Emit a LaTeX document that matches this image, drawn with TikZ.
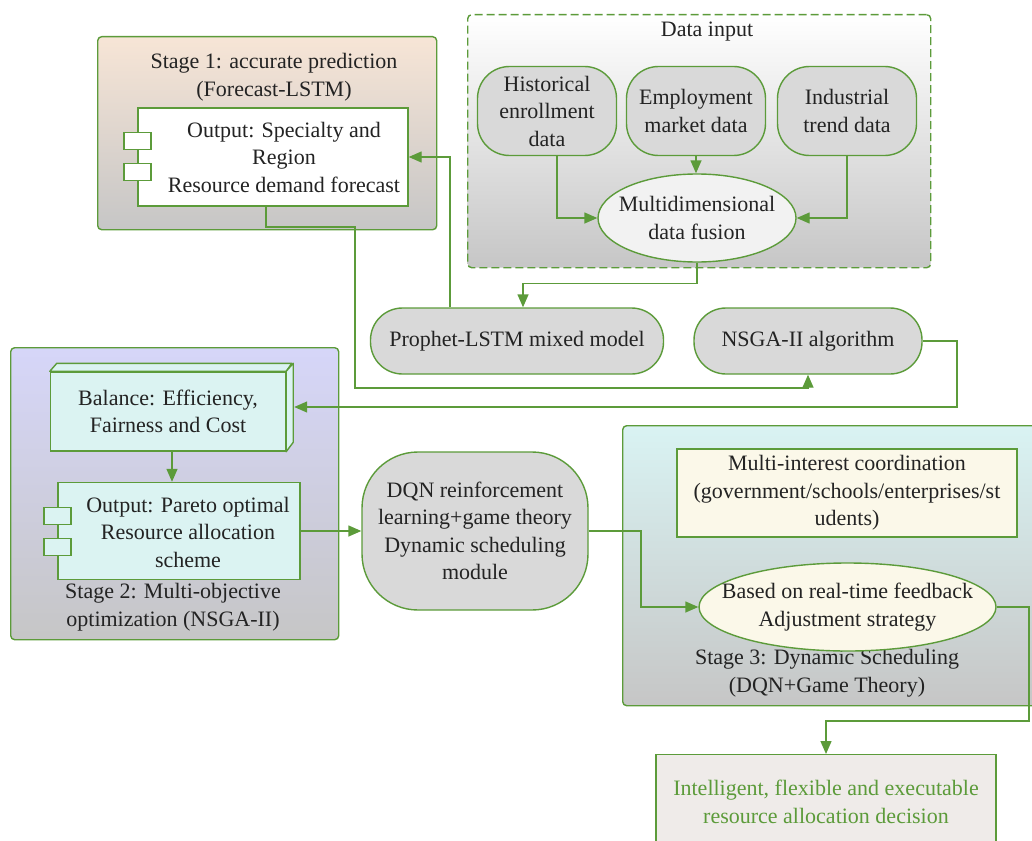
\documentclass[tikz,border=0pt]{standalone}
\usepackage{fontspec}
\setmainfont{Liberation Serif}
\usepackage{tikz}
\usetikzlibrary{shapes.geometric, arrows.meta}

\definecolor{lgreen}{RGB}{92,155,58}
\definecolor{txtgray}{RGB}{35,35,35}
\definecolor{peach}{RGB}{247,229,214}
\definecolor{lavender}{RGB}{214,214,249}
\definecolor{paleblue}{RGB}{217,243,243}
\definecolor{stagegray}{RGB}{198,198,198}
\definecolor{pillgray}{RGB}{217,217,217}
\definecolor{fusegray}{RGB}{242,242,242}
\definecolor{cyanfill}{RGB}{219,243,242}
\definecolor{cream}{RGB}{251,248,233}
\definecolor{decgray}{RGB}{239,235,233}

\begin{document}
\begin{tikzpicture}[x=1pt, y=-1pt,
                    font=\fontsize{22}{27.5}\selectfont, text=txtgray,
                    stage/.style={draw=lgreen, line width=1.4pt, rounded corners=4pt,
                                  inner sep=0pt, anchor=north west},
                    title/.style={align=center, inner sep=0pt},
                    pill/.style={draw=lgreen, line width=1.4pt, fill=pillgray,
                                 align=center, inner sep=0pt},
                    comp/.style={draw=lgreen, line width=1.4pt, align=center, inner sep=0pt},
                    tab/.style={draw=lgreen, line width=1.4pt, minimum width=27pt,
                                minimum height=17pt, inner sep=0pt},
                    blob/.style={ellipse, draw=lgreen, line width=1.4pt, inner sep=0pt},
                    link/.style={draw=lgreen, line width=1.4pt,
                                 -{Triangle[length=13pt, width=11pt]}}]
    \useasboundingbox (0,0) rectangle (1032,840);
    \clip (0,0) rectangle (1032,840);

    % stage 1
    \node[stage, minimum width=339pt, minimum height=193pt,
          top color=peach, bottom color=stagegray] (st1) at (97,36) {};
    \node[title] (st1T) at (274,77) {Stage 1: accurate prediction\\(Forecast-LSTM)};
    \node[comp, fill=white, minimum width=270pt, minimum height=98pt] (fc) at (273,157) {};
    \node[title] (fcT) at (284,157) {Output: Specialty and\\Region\\Resource demand forecast};
    \node[tab, fill=white] (fcA) at ([yshift=16pt]fc.west) {};
    \node[tab, fill=white] (fcB) at ([yshift=-15pt]fc.west) {};

    % data input
    \node[stage, dash pattern=on 8pt off 4pt, minimum width=463pt, minimum height=253pt,
          top color=white, bottom color=stagegray] (din) at (467,14) {};
    \node[title] (dinT) at (707,32) {Data input};
    \node[pill, rounded corners=32pt, minimum width=139pt, minimum height=89pt] (hist) at (547,111)
        {Historical\\enrollment\\data};
    \node[pill, rounded corners=32pt, minimum width=139pt, minimum height=89pt] (emp) at (696,111)
        {Employment\\market data};
    \node[pill, rounded corners=32pt, minimum width=139pt, minimum height=89pt] (ind) at (847,111)
        {Industrial\\trend data};
    \node[blob, fill=fusegray, minimum width=198pt, minimum height=88pt] (fuse) at (697,218) {};
    \node[title] (fuseT) at (697,218) {Multidimensional\\data fusion};

    % models
    \node[pill, rounded corners=32pt, minimum width=293pt, minimum height=66pt] (prophet) at (517,341)
        {Prophet-LSTM mixed model};
    \node[pill, rounded corners=32pt, minimum width=228pt, minimum height=66pt] (nsga) at (808,341)
        {NSGA-II algorithm};

    % stage 2
    \node[stage, minimum width=328pt, minimum height=292pt,
          top color=lavender, bottom color=stagegray] (st2) at (10,347) {};
    \node[title] (st2T) at (173,607) {Stage 2: Multi-objective\\optimization (NSGA-II)};
    \node[comp, fill=cyanfill, minimum width=235pt, minimum height=79pt] (bal) at (168,411.5)
        {Balance: Efficiency,\\Fairness and Cost};
    \filldraw[draw=lgreen, fill=cyanfill, line width=1.4pt, line join=round]
        (bal.north west) -- ++(7,-8) -- ++(235,0) -- (bal.north east) -- cycle;
    \filldraw[draw=lgreen, fill=cyanfill, line width=1.4pt, line join=round]
        (bal.north east) -- ++(7,-8) -- ++(0,79) -- (bal.south east) -- cycle;
    \node[comp, fill=cyanfill, minimum width=242pt, minimum height=97pt] (out2) at (179,531) {};
    \node[title] (out2T) at (188,532) {Output: Pareto optimal\\Resource allocation\\scheme};
    \node[tab, fill=cyanfill] (outA) at ([yshift=15pt]out2.west) {};
    \node[tab, fill=cyanfill] (outB) at ([yshift=-16pt]out2.west) {};

    % scheduling
    \node[pill, rounded corners=56pt, minimum width=226pt, minimum height=158pt] (dqn) at (475,531)
        {DQN reinforcement\\learning+game theory\\Dynamic scheduling\\module};

    % stage 3
    \node[stage, minimum width=440pt, minimum height=280pt,
          top color=paleblue, bottom color=stagegray] (st3) at (622,425) {};
    \node[title] (st3T) at (827,673) {Stage 3: Dynamic Scheduling\\(DQN+Game Theory)};
    \node[comp, fill=cream, minimum width=340pt, minimum height=88pt] (multi) at (847,493)
        {Multi-interest coordination\\(government/schools/enterprises/st\\udents)};
    \node[blob, fill=cream, minimum width=297pt, minimum height=88pt] (adj) at (847.5,607) {};
    \node[title] (adjT) at (847.5,607) {Based on real-time feedback\\Adjustment strategy};

    % decision
    \node[comp, fill=decgray, text=lgreen, minimum width=340pt, minimum height=94pt,
          anchor=north] (dec) at (826,754)
        {Intelligent, flexible and executable\\resource allocation decision};

    % bends
    \coordinate (fcturn) at (355,227);
    \coordinate (lowrun) at (355,388);
    \coordinate (nsgaturn) at (957,407);
    \coordinate (balside) at ([shift={(8,-4.5)}]bal.east);
    \coordinate (dqnturn) at (641,531);
    \coordinate (adjturn) at (1029,607);
    \coordinate (decturn) at (1029,721);

    % links
    \draw[link] ([xshift=10pt]hist.south) |- (fuse.west);
    \draw[link] (emp.south) -- (emp.south |- fuse.north);
    \draw[link] (ind.south) |- (fuse.east);
    \draw[link] (fuse.south) -- ++(0,21) -| ([xshift=6pt]prophet.north);
    \draw[link] ([xshift=-67pt]prophet.north) |- (fc.east);
    \draw[link] ([xshift=-7pt]fc.south) |- (fcturn) -- (lowrun) -| (nsga.south);
    \draw[link] (nsga.east) -| (nsgaturn) -- (balside);
    \draw[link] ([xshift=4pt]bal.south) -- ([xshift=-7pt]out2.north);
    \draw[link] (out2.east) -- (dqn.west);
    \draw[link] (dqn.east) -- (dqnturn) |- (adj.west);
    \draw[link] (adj.east) -- (adjturn) -- (decturn) -| (dec.north);
\end{tikzpicture}
\end{document}
